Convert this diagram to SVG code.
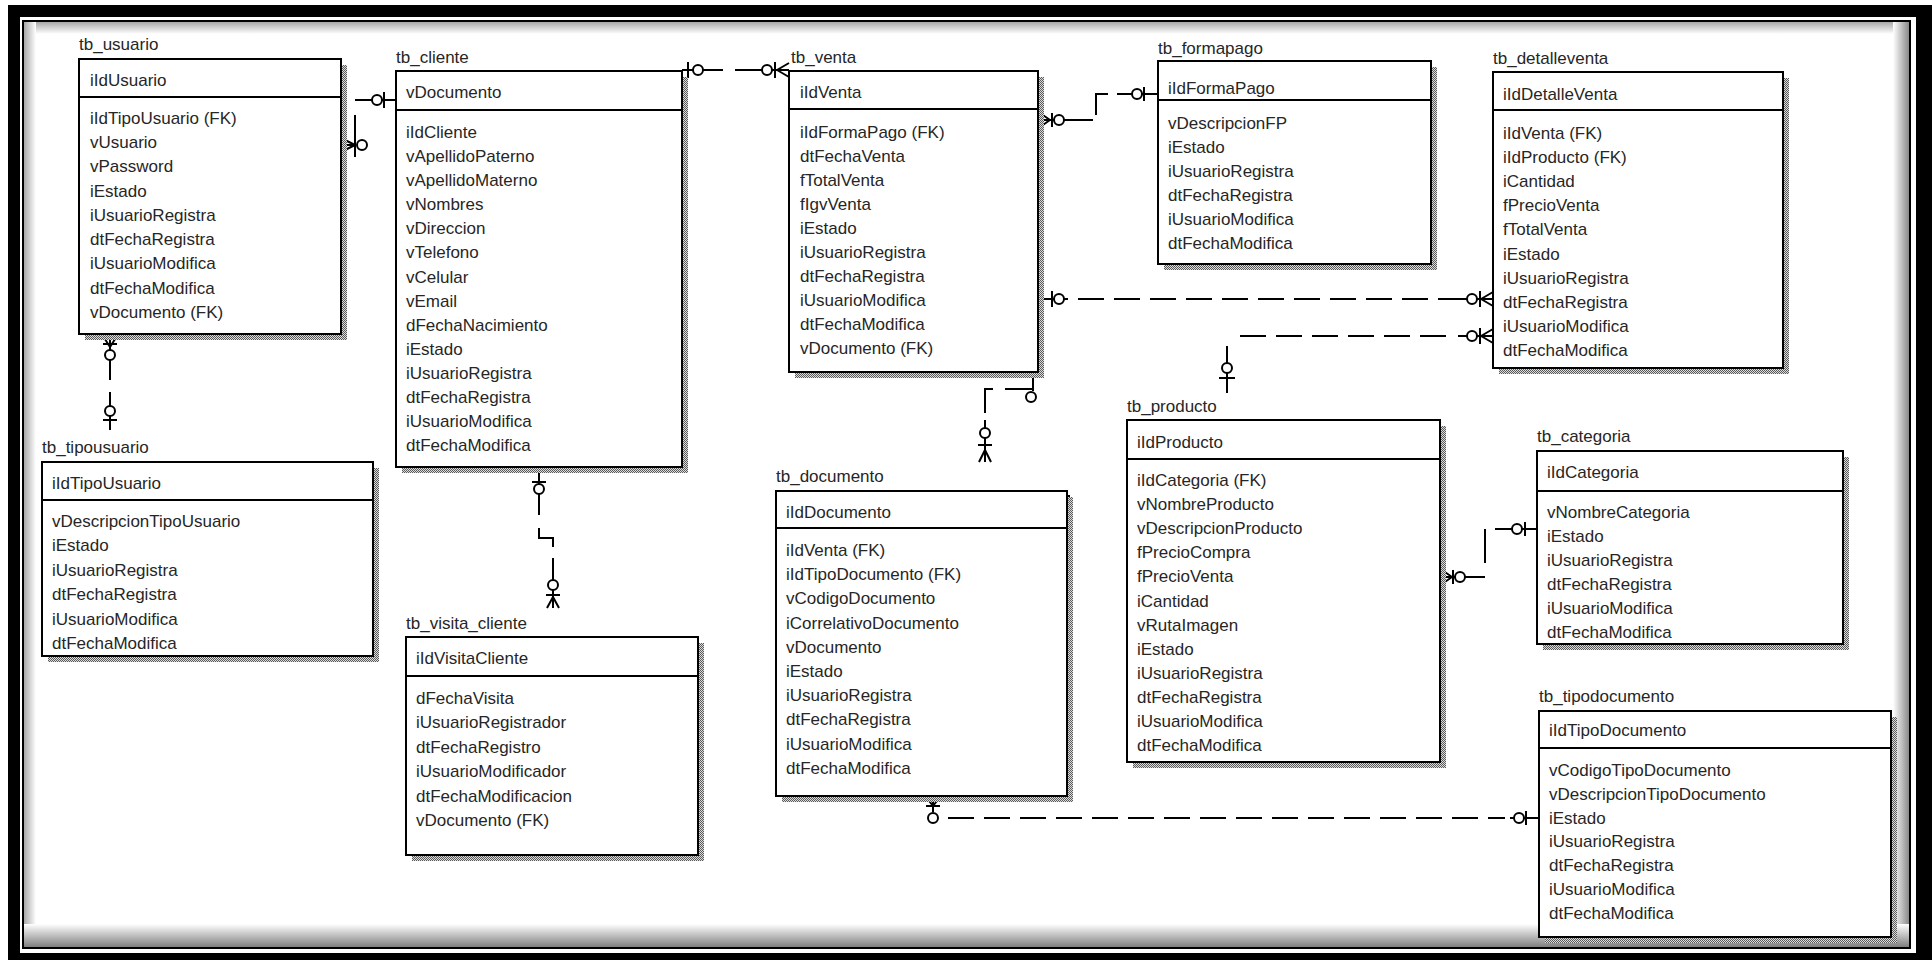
<svg xmlns="http://www.w3.org/2000/svg" width="1932" height="960" viewBox="0 0 1932 960">
<defs>
<pattern id="dither" width="2" height="2" patternUnits="userSpaceOnUse"><rect width="2" height="2" fill="#dcdcdc"/><rect width="1" height="1" fill="#5a5a5a"/><rect x="1" y="1" width="1" height="1" fill="#5a5a5a"/></pattern>
<linearGradient id="gTop" x1="0" y1="0" x2="0" y2="1"><stop offset="0" stop-color="#a8a8a8"/><stop offset="1" stop-color="#ffffff"/></linearGradient>
<linearGradient id="gLeft" x1="0" y1="0" x2="1" y2="0"><stop offset="0" stop-color="#a8a8a8"/><stop offset="1" stop-color="#ffffff"/></linearGradient>
<linearGradient id="gRight" x1="0" y1="0" x2="1" y2="0"><stop offset="0" stop-color="#ffffff"/><stop offset="1" stop-color="#8a8a8a"/></linearGradient>
<linearGradient id="gBottom" x1="0" y1="0" x2="0" y2="1"><stop offset="0" stop-color="#ffffff"/><stop offset="1" stop-color="#7a7a7a"/></linearGradient>
</defs>
<style>
.box{fill:#fff;stroke:#000;stroke-width:2}
.shadow{fill:url(#dither)}
.sep{stroke:#000;stroke-width:2}
.t{font-family:"Liberation Sans",Arial,sans-serif;font-size:17px;fill:#262626}
.c{fill:none;stroke:#000;stroke-width:2}
.d{stroke-dasharray:26 10}
.o{fill:#fff;stroke:#000;stroke-width:2}
</style>
<rect width="1932" height="960" fill="#fff"/>
<g id="frame">
<path d="M8,5 H1932 V960 H8 Z M20,17 V953 H1916 V17 Z" fill="#000" fill-rule="evenodd"/>
<rect x="24" y="22" width="1885" height="12" fill="url(#gTop)"/>
<rect x="24" y="22" width="12" height="926" fill="url(#gLeft)"/>
<rect x="1893" y="22" width="16" height="926" fill="url(#gRight)"/>
<rect x="24" y="924" width="1885" height="24" fill="url(#gBottom)"/>
<rect x="23" y="21" width="1887" height="927" fill="none" stroke="#000" stroke-width="2"/>
</g>

<g id="connectors">
<g id="rel-usuario-cliente">
<path class="c" d="M355,100 H395 M355,115 V157 M343,145 H356"/>
<path class="c" d="M355,145 L343,139 M355,145 L343,151"/>
<circle class="o" cx="362" cy="145" r="5"/>
<line class="c" x1="384" y1="92" x2="384" y2="108"/>
<circle class="o" cx="377" cy="100" r="5"/>
</g>
<g id="rel-usuario-tipousuario">
<path class="c" d="M110,334 V380 M110,392 V430"/>
<path class="c" d="M110,347 L103,336 M110,347 L117,336 M103,344 H117"/>
<circle class="o" cx="110" cy="355" r="5"/>
<circle class="o" cx="110" cy="411" r="5"/>
<line class="c" x1="103" y1="420" x2="117" y2="420"/>
</g>
<g id="rel-cliente-venta">
<path class="c" d="M682,70 H723 M735,70 H789"/>
<line class="c" x1="688" y1="62" x2="688" y2="78"/>
<circle class="o" cx="698" cy="70" r="5"/>
<circle class="o" cx="767" cy="70" r="5"/>
<line class="c" x1="775" y1="62" x2="775" y2="78"/>
<path class="c" d="M777,70 L789,63 M777,70 L789,77"/>
</g>
<g id="rel-venta-formapago">
<path class="c" d="M1040,120 H1093 M1096,115 V94 H1108 M1117,94 H1158"/>
<path class="c" d="M1050,120 L1040,113 M1050,120 L1040,127 M1052,113 V127"/>
<circle class="o" cx="1059" cy="120" r="5"/>
<circle class="o" cx="1137" cy="94" r="5"/>
<line class="c" x1="1144" y1="87" x2="1144" y2="101"/>
</g>
<g id="rel-venta-detalleventa">
<path class="c" d="M1042,299 H1068"/>
<path class="c d" d="M1078,299 H1472"/>
<path class="c" d="M1458,299 H1493"/>
<line class="c" x1="1052" y1="291" x2="1052" y2="307"/>
<circle class="o" cx="1059" cy="299" r="5"/>
<circle class="o" cx="1472" cy="299" r="5"/>
<line class="c" x1="1480" y1="291" x2="1480" y2="307"/>
<path class="c" d="M1481,299 L1493,292 M1481,299 L1493,306"/>
</g>
<g id="rel-detalleventa-producto">
<path class="c" d="M1458,336 H1493"/>
<path class="c d" d="M1446,336 H1232"/>
<path class="c" d="M1227,346 V393"/>
<circle class="o" cx="1472" cy="336" r="5"/>
<line class="c" x1="1480" y1="328" x2="1480" y2="344"/>
<path class="c" d="M1481,336 L1493,329 M1481,336 L1493,343"/>
<circle class="o" cx="1227" cy="368" r="5"/>
<line class="c" x1="1219" y1="378" x2="1235" y2="378"/>
</g>
<g id="rel-venta-documento">
<path class="c" d="M1033,374 V391 M1005,389 H1033 M985,413 V389 H993 M985,420 V462"/>
<circle class="o" cx="1031" cy="397" r="5"/>
<circle class="o" cx="985" cy="433" r="5"/>
<line class="c" x1="978" y1="445" x2="992" y2="445"/>
<path class="c" d="M985,450 L979,462 M985,450 L991,462"/>
</g>
<g id="rel-cliente-visita">
<path class="c" d="M539,469 V515 M539,528 V538 H553 V547 M553,558 V608"/>
<line class="c" x1="532" y1="482" x2="546" y2="482"/>
<circle class="o" cx="539" cy="489" r="5"/>
<circle class="o" cx="553" cy="585" r="5"/>
<line class="c" x1="546" y1="595" x2="560" y2="595"/>
<path class="c" d="M553,597 L547,608 M553,597 L559,608"/>
</g>
<g id="rel-producto-categoria">
<path class="c" d="M1442,577 H1485 M1485,563 V529 M1495,529 H1537"/>
<path class="c" d="M1452,577 L1442,570 M1452,577 L1442,584 M1453,570 V584"/>
<circle class="o" cx="1460" cy="577" r="5"/>
<circle class="o" cx="1517" cy="529" r="5"/>
<line class="c" x1="1525" y1="522" x2="1525" y2="536"/>
</g>
<g id="rel-documento-tipodocumento">
<path class="c" d="M933,798 V812"/>
<path class="c d" d="M948,818 H1505"/>
<path class="c" d="M1510,818 H1539"/>
<path class="c" d="M933,806 L926,797 M933,806 L940,797 M926,806 H940"/>
<circle class="o" cx="933" cy="818" r="5"/>
<circle class="o" cx="1519" cy="818" r="5"/>
<line class="c" x1="1526" y1="811" x2="1526" y2="825"/>
<line class="c" x1="1069" y1="495" x2="1069" y2="520"/>
</g>
</g>

<g id="tb_usuario">
<text class="t" x="79" y="50">tb_usuario</text>
<rect class="shadow" x="85" y="65" width="262" height="275"/>
<rect class="box" x="79" y="59" width="262" height="275"/>
<line class="sep" x1="79" y1="97" x2="341" y2="97"/>
<text class="t" x="90" y="86">iIdUsuario</text>
<text class="t" x="90" y="124">iIdTipoUsuario (FK)</text>
<text class="t" x="90" y="148">vUsuario</text>
<text class="t" x="90" y="172">vPassword</text>
<text class="t" x="90" y="197">iEstado</text>
<text class="t" x="90" y="221">iUsuarioRegistra</text>
<text class="t" x="90" y="245">dtFechaRegistra</text>
<text class="t" x="90" y="269">iUsuarioModifica</text>
<text class="t" x="90" y="294">dtFechaModifica</text>
<text class="t" x="90" y="318">vDocumento (FK)</text>
</g>

<g id="tb_cliente">
<text class="t" x="396" y="63">tb_cliente</text>
<rect class="shadow" x="402" y="77" width="286" height="396"/>
<rect class="box" x="396" y="71" width="286" height="396"/>
<line class="sep" x1="396" y1="110" x2="682" y2="110"/>
<text class="t" x="406" y="98">vDocumento</text>
<text class="t" x="406" y="138">iIdCliente</text>
<text class="t" x="406" y="162">vApellidoPaterno</text>
<text class="t" x="406" y="186">vApellidoMaterno</text>
<text class="t" x="406" y="210">vNombres</text>
<text class="t" x="406" y="234">vDireccion</text>
<text class="t" x="406" y="258">vTelefono</text>
<text class="t" x="406" y="283">vCelular</text>
<text class="t" x="406" y="307">vEmail</text>
<text class="t" x="406" y="331">dFechaNacimiento</text>
<text class="t" x="406" y="355">iEstado</text>
<text class="t" x="406" y="379">iUsuarioRegistra</text>
<text class="t" x="406" y="403">dtFechaRegistra</text>
<text class="t" x="406" y="427">iUsuarioModifica</text>
<text class="t" x="406" y="451">dtFechaModifica</text>
</g>

<g id="tb_venta">
<text class="t" x="791" y="63">tb_venta</text>
<rect class="shadow" x="795" y="77" width="249" height="301"/>
<rect class="box" x="789" y="71" width="249" height="301"/>
<line class="sep" x1="789" y1="109" x2="1038" y2="109"/>
<text class="t" x="800" y="98">iIdVenta</text>
<text class="t" x="800" y="138">iIdFormaPago (FK)</text>
<text class="t" x="800" y="162">dtFechaVenta</text>
<text class="t" x="800" y="186">fTotalVenta</text>
<text class="t" x="800" y="210">fIgvVenta</text>
<text class="t" x="800" y="234">iEstado</text>
<text class="t" x="800" y="258">iUsuarioRegistra</text>
<text class="t" x="800" y="282">dtFechaRegistra</text>
<text class="t" x="800" y="306">iUsuarioModifica</text>
<text class="t" x="800" y="330">dtFechaModifica</text>
<text class="t" x="800" y="354">vDocumento (FK)</text>
</g>

<g id="tb_formapago">
<text class="t" x="1158" y="54">tb_formapago</text>
<rect class="shadow" x="1164" y="67" width="273" height="203"/>
<rect class="box" x="1158" y="61" width="273" height="203"/>
<line class="sep" x1="1158" y1="100" x2="1431" y2="100"/>
<text class="t" x="1168" y="94">iIdFormaPago</text>
<text class="t" x="1168" y="129">vDescripcionFP</text>
<text class="t" x="1168" y="153">iEstado</text>
<text class="t" x="1168" y="177">iUsuarioRegistra</text>
<text class="t" x="1168" y="201">dtFechaRegistra</text>
<text class="t" x="1168" y="225">iUsuarioModifica</text>
<text class="t" x="1168" y="249">dtFechaModifica</text>
</g>

<g id="tb_detalleventa">
<text class="t" x="1493" y="64">tb_detalleventa</text>
<rect class="shadow" x="1499" y="78" width="290" height="296"/>
<rect class="box" x="1493" y="72" width="290" height="296"/>
<line class="sep" x1="1493" y1="110" x2="1783" y2="110"/>
<text class="t" x="1503" y="100">iIdDetalleVenta</text>
<text class="t" x="1503" y="139">iIdVenta (FK)</text>
<text class="t" x="1503" y="163">iIdProducto (FK)</text>
<text class="t" x="1503" y="187">iCantidad</text>
<text class="t" x="1503" y="211">fPrecioVenta</text>
<text class="t" x="1503" y="235">fTotalVenta</text>
<text class="t" x="1503" y="260">iEstado</text>
<text class="t" x="1503" y="284">iUsuarioRegistra</text>
<text class="t" x="1503" y="308">dtFechaRegistra</text>
<text class="t" x="1503" y="332">iUsuarioModifica</text>
<text class="t" x="1503" y="356">dtFechaModifica</text>
</g>

<g id="tb_tipousuario">
<text class="t" x="42" y="453">tb_tipousuario</text>
<rect class="shadow" x="48" y="468" width="331" height="194"/>
<rect class="box" x="42" y="462" width="331" height="194"/>
<line class="sep" x1="42" y1="500" x2="373" y2="500"/>
<text class="t" x="52" y="489">iIdTipoUsuario</text>
<text class="t" x="52" y="527">vDescripcionTipoUsuario</text>
<text class="t" x="52" y="551">iEstado</text>
<text class="t" x="52" y="576">iUsuarioRegistra</text>
<text class="t" x="52" y="600">dtFechaRegistra</text>
<text class="t" x="52" y="625">iUsuarioModifica</text>
<text class="t" x="52" y="649">dtFechaModifica</text>
</g>

<g id="tb_visita_cliente">
<text class="t" x="406" y="629">tb_visita_cliente</text>
<rect class="shadow" x="412" y="643" width="292" height="218"/>
<rect class="box" x="406" y="637" width="292" height="218"/>
<line class="sep" x1="406" y1="676" x2="698" y2="676"/>
<text class="t" x="416" y="664">iIdVisitaCliente</text>
<text class="t" x="416" y="704">dFechaVisita</text>
<text class="t" x="416" y="728">iUsuarioRegistrador</text>
<text class="t" x="416" y="753">dtFechaRegistro</text>
<text class="t" x="416" y="777">iUsuarioModificador</text>
<text class="t" x="416" y="802">dtFechaModificacion</text>
<text class="t" x="416" y="826">vDocumento (FK)</text>
</g>

<g id="tb_documento">
<text class="t" x="776" y="482">tb_documento</text>
<rect class="shadow" x="782" y="497" width="291" height="305"/>
<rect class="box" x="776" y="491" width="291" height="305"/>
<line class="sep" x1="776" y1="528" x2="1067" y2="528"/>
<text class="t" x="786" y="518">iIdDocumento</text>
<text class="t" x="786" y="556">iIdVenta (FK)</text>
<text class="t" x="786" y="580">iIdTipoDocumento (FK)</text>
<text class="t" x="786" y="604">vCodigoDocumento</text>
<text class="t" x="786" y="629">iCorrelativoDocumento</text>
<text class="t" x="786" y="653">vDocumento</text>
<text class="t" x="786" y="677">iEstado</text>
<text class="t" x="786" y="701">iUsuarioRegistra</text>
<text class="t" x="786" y="725">dtFechaRegistra</text>
<text class="t" x="786" y="750">iUsuarioModifica</text>
<text class="t" x="786" y="774">dtFechaModifica</text>
</g>

<g id="tb_producto">
<text class="t" x="1127" y="412">tb_producto</text>
<rect class="shadow" x="1133" y="426" width="313" height="342"/>
<rect class="box" x="1127" y="420" width="313" height="342"/>
<line class="sep" x1="1127" y1="459" x2="1440" y2="459"/>
<text class="t" x="1137" y="448">iIdProducto</text>
<text class="t" x="1137" y="486">iIdCategoria (FK)</text>
<text class="t" x="1137" y="510">vNombreProducto</text>
<text class="t" x="1137" y="534">vDescripcionProducto</text>
<text class="t" x="1137" y="558">fPrecioCompra</text>
<text class="t" x="1137" y="582">fPrecioVenta</text>
<text class="t" x="1137" y="607">iCantidad</text>
<text class="t" x="1137" y="631">vRutaImagen</text>
<text class="t" x="1137" y="655">iEstado</text>
<text class="t" x="1137" y="679">iUsuarioRegistra</text>
<text class="t" x="1137" y="703">dtFechaRegistra</text>
<text class="t" x="1137" y="727">iUsuarioModifica</text>
<text class="t" x="1137" y="751">dtFechaModifica</text>
</g>

<g id="tb_categoria">
<text class="t" x="1537" y="442">tb_categoria</text>
<rect class="shadow" x="1543" y="457" width="306" height="193"/>
<rect class="box" x="1537" y="451" width="306" height="193"/>
<line class="sep" x1="1537" y1="491" x2="1843" y2="491"/>
<text class="t" x="1547" y="478">iIdCategoria</text>
<text class="t" x="1547" y="518">vNombreCategoria</text>
<text class="t" x="1547" y="542">iEstado</text>
<text class="t" x="1547" y="566">iUsuarioRegistra</text>
<text class="t" x="1547" y="590">dtFechaRegistra</text>
<text class="t" x="1547" y="614">iUsuarioModifica</text>
<text class="t" x="1547" y="638">dtFechaModifica</text>
</g>

<g id="tb_tipodocumento">
<text class="t" x="1539" y="702">tb_tipodocumento</text>
<rect class="shadow" x="1545" y="717" width="352" height="226"/>
<rect class="box" x="1539" y="711" width="352" height="226"/>
<line class="sep" x1="1539" y1="748" x2="1891" y2="748"/>
<text class="t" x="1549" y="736">iIdTipoDocumento</text>
<text class="t" x="1549" y="776">vCodigoTipoDocumento</text>
<text class="t" x="1549" y="800">vDescripcionTipoDocumento</text>
<text class="t" x="1549" y="824">iEstado</text>
<text class="t" x="1549" y="847">iUsuarioRegistra</text>
<text class="t" x="1549" y="871">dtFechaRegistra</text>
<text class="t" x="1549" y="895">iUsuarioModifica</text>
<text class="t" x="1549" y="919">dtFechaModifica</text>
</g>
</svg>
